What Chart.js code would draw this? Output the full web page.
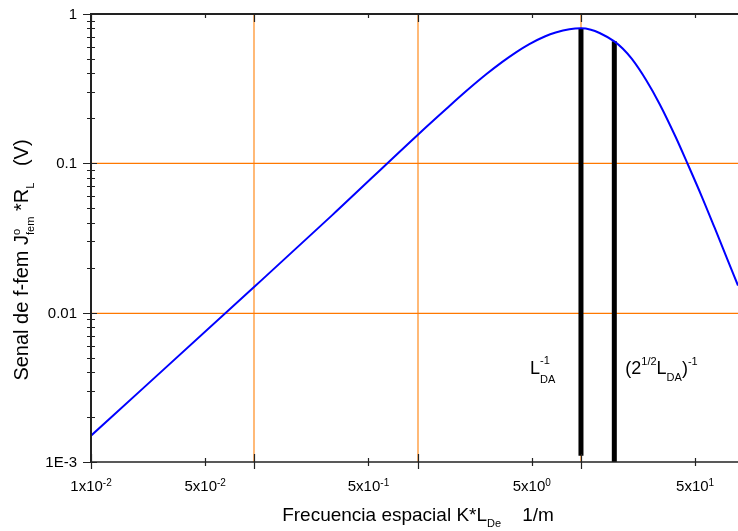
<!DOCTYPE html>
<html>
<head>
<meta charset="utf-8">
<script src="https://cdn.jsdelivr.net/npm/chart.js@4.4.1/dist/chart.umd.min.js"></script>
<style>
  html, body { margin: 0; padding: 0; background: #fff; }
  canvas { display: block; }
</style>
</head>
<body>
<canvas id="chart" width="738" height="531"></canvas>
<script>
// spatial frequency K*L_De and the f-fem signal
const kValues = [0.01, 0.1, 0.3, 1, 1.5, 2, 2.64, 3.3, 4, 4.83, 6, 7, 8.5, 10, 11.5, 13, 16, 18, 20.5, 25.1, 30.4, 38, 45, 55, 65.9, 78, 91.5];
const signal = [0.0015, 0.0149, 0.045, 0.155, 0.232, 0.307, 0.396, 0.478, 0.554, 0.629, 0.707, 0.752, 0.791, 0.802, 0.785, 0.746, 0.656, 0.587, 0.50, 0.36, 0.248, 0.15, 0.099, 0.0597, 0.0369, 0.0234, 0.0152];

// vertical markers: L_DA^-1 and (2^1/2 L_DA)^-1
const markerK = [10, 16];
const markerTop = [0.80, 0.656];
const markerBottom = [0.0011, 0.001];

// axis ticks
const xMajor = [0.01, 0.1, 1, 10];
const xMinor = [0.05, 0.5, 5, 50];
const xGrid = [0.1, 1, 10];
const xTickValues = [0.01, 0.05, 0.5, 5, 50];
const xTickMantissa = ["1", "5", "5", "5", "5"];
const xTickExponent = ["-2", "-2", "-1", "0", "1"];
const yTickValues = [1, 0.1, 0.01, 0.001];
const yTickLabels = ["1", "0.1", "0.01", "1E-3"];
const yGrid = [0.1, 0.01];

const FONT = "Arial, 'Liberation Sans', sans-serif";
const AXIS = "#222";

// text with superscripts/subscripts: parts are [text, kind], kind '' | '^' | '_' | '^_'
function richWidth(ctx, parts, size, small) {
  let w = 0;
  for (const [t, kind] of parts) {
    if (kind === "") {
      ctx.font = size + "px " + FONT;
      w += ctx.measureText(t).width;
    } else if (kind === "^_") {
      ctx.font = small + "px " + FONT;
      w += Math.max(ctx.measureText(t[0]).width, ctx.measureText(t[1]).width);
    } else {
      ctx.font = small + "px " + FONT;
      w += ctx.measureText(t).width;
    }
  }
  return w;
}

function richText(ctx, x, y, parts, size, small, up, down) {
  ctx.textAlign = "left";
  ctx.textBaseline = "alphabetic";
  let cx = x;
  for (const [t, kind] of parts) {
    if (kind === "") {
      ctx.font = size + "px " + FONT;
      ctx.fillText(t, cx, y);
      cx += ctx.measureText(t).width;
    } else if (kind === "^") {
      ctx.font = small + "px " + FONT;
      ctx.fillText(t, cx, y - up);
      cx += ctx.measureText(t).width;
    } else if (kind === "_") {
      ctx.font = small + "px " + FONT;
      ctx.fillText(t, cx, y + down);
      cx += ctx.measureText(t).width;
    } else {
      ctx.font = small + "px " + FONT;
      ctx.fillText(t[0], cx, y - up);
      ctx.fillText(t[1], cx, y + down);
      cx += Math.max(ctx.measureText(t[0]).width, ctx.measureText(t[1]).width);
    }
  }
}

const frame = {
  id: "frame",
  beforeDatasetsDraw(chart) {
    const { ctx, chartArea: a, scales: { x, y } } = chart;
    ctx.save();
    // orange grid at the decades
    ctx.strokeStyle = "rgb(255,140,30)";
    ctx.lineWidth = 1.2;
    ctx.beginPath();
    xGrid.forEach(v => {
      const px = Math.round(x.getPixelForValue(v));
      ctx.moveTo(px, a.top);
      ctx.lineTo(px, a.bottom);
    });
    ctx.stroke();
    ctx.strokeStyle = "rgb(255,120,0)";
    ctx.lineWidth = 1.2;
    ctx.beginPath();
    yGrid.forEach(v => {
      const py = Math.round(y.getPixelForValue(v)) + 0.4;
      ctx.moveTo(a.left, py);
      ctx.lineTo(a.right, py);
    });
    ctx.stroke();
    ctx.restore();
  },
  afterDatasetsDraw(chart) {
    const { ctx, chartArea: a, scales: { x, y } } = chart;
    ctx.save();
    ctx.strokeStyle = AXIS;
    ctx.fillStyle = "#000";

    // frame lines
    ctx.lineWidth = 2;
    ctx.beginPath();
    ctx.moveTo(a.left, a.top);
    ctx.lineTo(a.right, a.top);
    ctx.moveTo(a.left, a.top - 1);
    ctx.lineTo(a.left, a.bottom + 1);
    ctx.stroke();
    ctx.lineWidth = 1.5;
    ctx.beginPath();
    ctx.moveTo(a.left, a.bottom);
    ctx.lineTo(a.right, a.bottom);
    ctx.stroke();

    // x ticks (bottom and top)
    ctx.lineWidth = 1.2;
    ctx.beginPath();
    xMajor.forEach(v => {
      const px = Math.round(x.getPixelForValue(v)) + 0.5;
      ctx.moveTo(px, a.bottom - 8);
      ctx.lineTo(px, a.bottom + 7);
      ctx.moveTo(px, a.top);
      ctx.lineTo(px, a.top + 8);
    });
    xMinor.forEach(v => {
      const px = Math.round(x.getPixelForValue(v)) + 0.5;
      ctx.moveTo(px, a.bottom - 4);
      ctx.lineTo(px, a.bottom + 4);
      ctx.moveTo(px, a.top);
      ctx.lineTo(px, a.top + 4);
    });

    // y ticks
    yTickValues.forEach(v => {
      const py = Math.round(y.getPixelForValue(v)) + 0.5;
      ctx.moveTo(a.left - 8, py);
      ctx.lineTo(a.left + 6, py);
    });
    for (let d = 0.001; d < 0.9; d *= 10) {
      for (let m = 2; m <= 9; m++) {
        const py = Math.round(y.getPixelForValue(d * m)) + 0.5;
        ctx.moveTo(a.left - 4, py);
        ctx.lineTo(a.left + 4, py);
      }
    }
    ctx.stroke();

    // y tick labels
    ctx.font = "15px " + FONT;
    ctx.textAlign = "right";
    ctx.textBaseline = "middle";
    yTickValues.forEach((v, i) => {
      ctx.fillText(yTickLabels[i], a.left - 14, y.getPixelForValue(v) + 1);
    });

    // x tick labels with exponents
    xTickValues.forEach((v, i) => {
      const parts = [[xTickMantissa[i] + "x10", ""], [xTickExponent[i], "^"]];
      const w = richWidth(ctx, parts, 15, 10);
      richText(ctx, x.getPixelForValue(v) - w / 2, a.bottom + 29, parts, 15, 10, 5, 0);
    });

    // axis titles
    const xt = [["Frecuencia espacial K*L", ""], ["De", "_"], ["    1/m", ""]];
    const xw = richWidth(ctx, xt, 19, 11);
    richText(ctx, 418 - xw / 2, 521, xt, 19, 11, 8, 6);

    const yt = [["Senal de f-fem J", ""], [["o", "fem"], "^_"], [" *R", ""], ["L", "_"], ["   (V)", ""]];
    const yw = richWidth(ctx, yt, 20, 11);
    ctx.save();
    ctx.translate(28, 260);
    ctx.rotate(-Math.PI / 2);
    richText(ctx, -yw / 2, 0, yt, 20, 11, 8, 6);
    ctx.restore();

    // marker labels
    const ly = y.getPixelForValue(0.0039);
    richText(ctx, x.getPixelForValue(markerK[0]) - 51, ly,
      [["L", ""], [["-1", "DA"], "^_"]], 18, 11, 10, 9);
    richText(ctx, x.getPixelForValue(markerK[1]) + 11, ly,
      [["(2", ""], ["1/2", "^"], ["L", ""], ["DA", "_"], [")", ""], ["-1", "^"]], 18, 11, 9, 7);

    ctx.restore();
  }
};

new Chart(document.getElementById("chart"), {
  type: "line",
  data: {
    datasets: [
      {
        data: kValues.map((k, i) => ({ x: k, y: signal[i] })),
        borderColor: "#0000ff",
        borderWidth: 2,
        pointRadius: 0,
        cubicInterpolationMode: "monotone",
      },
      {
        data: [{ x: markerK[0], y: markerTop[0] }, { x: markerK[0], y: markerBottom[0] }],
        borderColor: "#000",
        borderWidth: 5,
        pointRadius: 0,
      },
      {
        data: [{ x: markerK[1], y: markerTop[1] }, { x: markerK[1], y: markerBottom[1] }],
        borderColor: "#000",
        borderWidth: 5,
        pointRadius: 0,
      },
    ],
  },
  options: {
    responsive: false,
    animation: false,
    layout: { padding: { left: 91, top: 14, right: 0, bottom: 69 } },
    plugins: { legend: { display: false }, tooltip: { enabled: false } },
    scales: {
      x: { type: "logarithmic", min: 0.01, max: 91.5, display: false },
      y: { type: "logarithmic", min: 0.001, max: 1, display: false },
    },
  },
  plugins: [frame],
});
</script>
</body>
</html>
